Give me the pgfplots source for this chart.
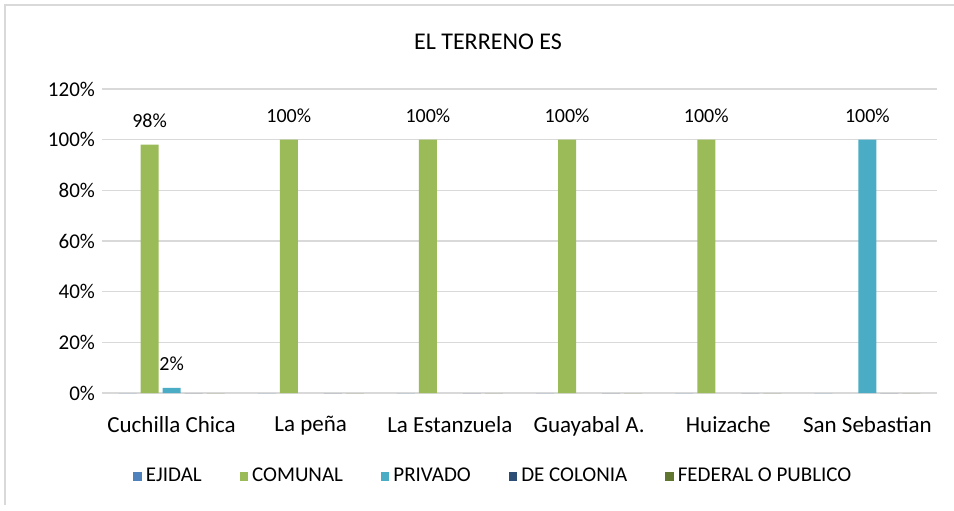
\documentclass[border=0pt]{standalone}
\usepackage{pgfplots}
\pgfplotsset{compat=1.18}
\usepackage{fontspec}
\setmainfont{Carlito}
\definecolor{cEjidal}{HTML}{4F81BD}
\definecolor{cComunal}{HTML}{9BBB59}
\definecolor{cPrivado}{HTML}{4BACC6}
\definecolor{cColonia}{HTML}{2C4D75}
\definecolor{cFederal}{HTML}{5F7530}
\definecolor{gridgray}{HTML}{D9D9D9}

\begin{document}
\begin{tikzpicture}
  \useasboundingbox (0,0) rectangle (477pt,255pt);
  \draw[gridgray, line width=0.6pt] (2.5pt,2.5pt) -- (2.5pt,252.5pt) -- (477pt,252.5pt);
  \node[font=\fontsize{12}{14}\selectfont, text=black] at (244pt,234pt) {EL TERRENO ES};
  \begin{axis}[
      at={(51pt,58.5pt)}, anchor=south west,
      scale only axis, width=417.5pt, height=152pt,
      xmin=-0.5, xmax=5.5, ymin=0, ymax=120,
      ybar, bar width=9pt,
      axis line style={draw=none},
      /pgf/number format/assume math mode=true,
      xtick={0,1,2,3,4,5},
      xticklabels={Cuchilla Chica, La peña, La Estanzuela, Guayabal A., Huizache, San Sebastian},
      x tick label style={font=\fontsize{11.5}{13}\selectfont, text=black, yshift=-8pt},
      ytick={0,20,40,60,80,100,120},
      yticklabels={0\%,20\%,40\%,60\%,80\%,100\%,120\%},
      y tick label style={font=\fontsize{10.5}{12}\selectfont, text=black},
      major tick length=0pt,
      ymajorgrids, grid style={gridgray, line width=0.6pt},
      legend columns=5,
      legend style={draw=none, at={(0.47,-0.275)}, anchor=center,
        font=\fontsize{10.5}{12}\selectfont, /tikz/every even column/.append style={column sep=17pt}},
      legend image code/.code={\fill[#1] (0pt,-2pt) rectangle (4.2pt,2.2pt);},
      every node near coord/.append style={font=\fontsize{10}{12}\selectfont, text=black, yshift=5pt},
    ]
    \addplot[fill=cEjidal, draw=none, bar shift=-22pt]
      coordinates {(0,0)(1,0)(2,0)(3,0)(4,0)(5,0)};
    \addlegendentry{EJIDAL}
    \addplot[fill=cComunal, draw=none, bar shift=-11pt,
      nodes near coords={\pgfmathprintnumber{\pgfplotspointmeta}\%}]
      coordinates {(0,98)(1,100)(2,100)(3,100)(4,100)};
    \addlegendentry{COMUNAL}
    \addplot[fill=cPrivado, draw=none, bar shift=0pt,
      nodes near coords={\pgfmathprintnumber{\pgfplotspointmeta}\%}]
      coordinates {(0,2)(5,100)};
    \addlegendentry{PRIVADO}
    \addplot[fill=cColonia, draw=none, bar shift=11pt]
      coordinates {(0,0)(1,0)(2,0)(3,0)(4,0)(5,0)};
    \addlegendentry{DE COLONIA}
    \addplot[fill=cFederal, draw=none, bar shift=22pt]
      coordinates {(0,0)(1,0)(2,0)(3,0)(4,0)(5,0)};
    \addlegendentry{FEDERAL O PUBLICO}
  \end{axis}
\end{tikzpicture}
\end{document}
